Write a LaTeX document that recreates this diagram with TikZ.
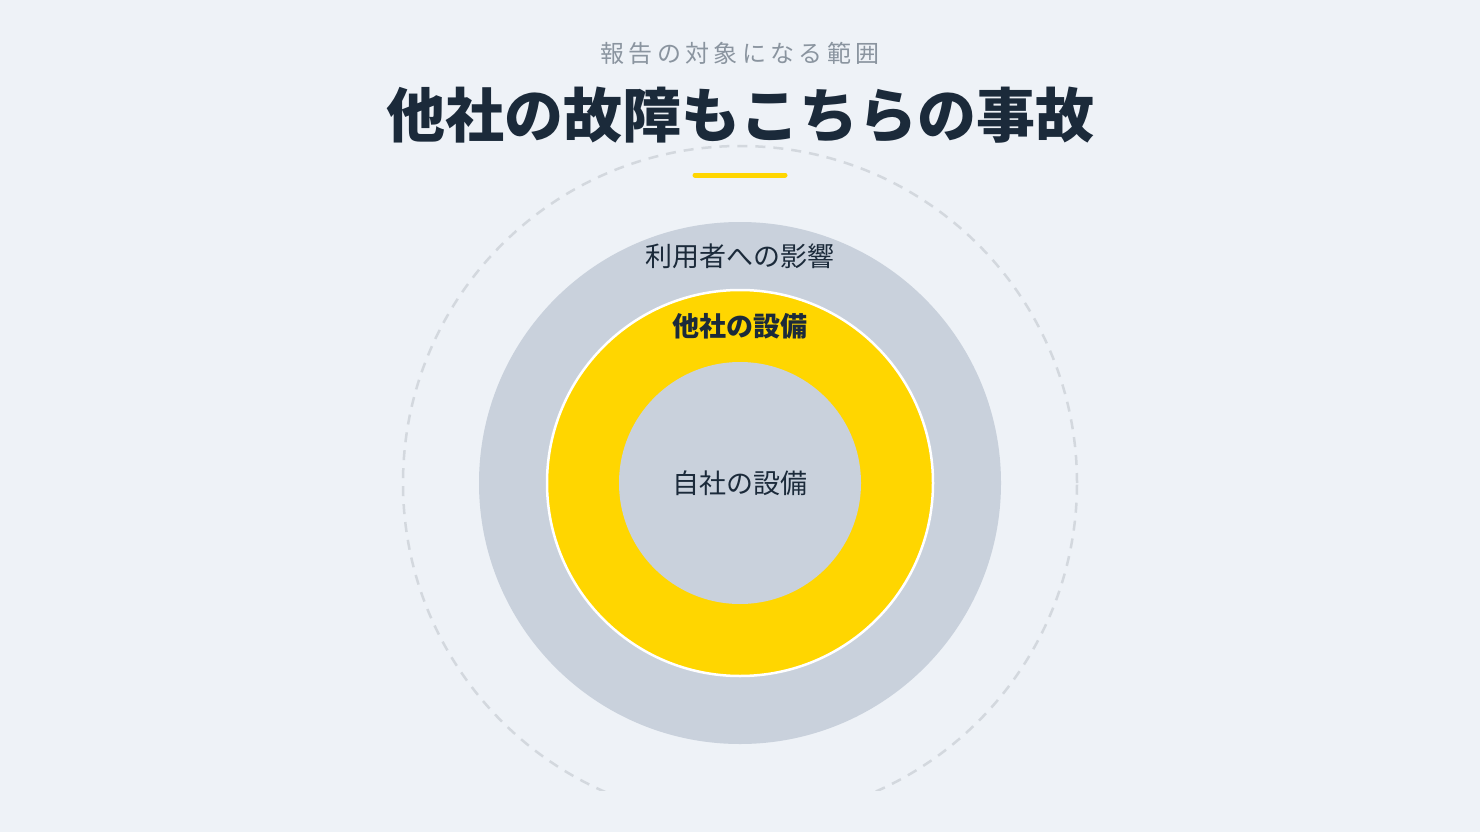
\documentclass[tikz,border=0pt]{standalone}
\usepackage{fontspec}
\setmainfont{Noto Sans CJK JP}
\newfontfamily\subfont[LetterSpace=18]{Noto Sans CJK JP}
\usepackage{tikz}
\pgfdeclarelayer{background}
\pgfdeclarelayer{foreground}
\pgfsetlayers{background,main,foreground}
\definecolor{pagebg}{HTML}{EEF2F7}
\definecolor{ringgray}{HTML}{C9D1DC}
\definecolor{ringyellow}{HTML}{FFD600}
\definecolor{inkdark}{HTML}{1B2A3A}
\definecolor{inkgray}{HTML}{8A949F}
\definecolor{dashgray}{HTML}{D3D8DE}

\begin{document}
\begin{tikzpicture}[x=1pt,y=-1pt,
  ringlabel/.style={text=inkdark,font=\fontsize{27}{30}\selectfont,inner sep=0pt}]
\useasboundingbox (0,0) rectangle (1480,832);
\begin{pgfonlayer}{background}
\fill[pagebg] (0,0) rectangle (1480,832);
\begin{scope}
\clip (0,0) rectangle (1480,790);
\draw[dashgray,line width=2.5pt,dash pattern=on 10pt off 8pt] (740,483) circle (337pt);
\end{scope}
\end{pgfonlayer}
\coordinate (mid) at (740,483);
\fill[ringgray] (mid) circle (261pt);
\draw[ringyellow,fill=ringyellow] (mid) circle (193pt);
\draw[white,line width=2.5pt] (mid) circle (193pt);
\fill[ringgray] (mid) circle (121pt);
\begin{pgfonlayer}{foreground}
\node[text=inkgray,font=\subfont\fontsize{24}{28}\selectfont,inner sep=0pt] (sub) at (740,53) {報告の対象になる範囲};
\node[text=inkdark,font=\fontsize{59}{64}\selectfont\bfseries,inner sep=0pt] (title) at (740,115) {他社の故障もこちらの事故};
\draw[ringyellow,line width=5pt,line cap=round] (695,175) -- (785,175);
\node[ringlabel] (users) at (740,256) {利用者への影響};
\node[ringlabel,font=\fontsize{27}{30}\selectfont\bfseries] (others) at (740,326) {他社の設備};
\node[ringlabel] (own) at (740,483) {自社の設備};
\end{pgfonlayer}
\end{tikzpicture}
\end{document}
